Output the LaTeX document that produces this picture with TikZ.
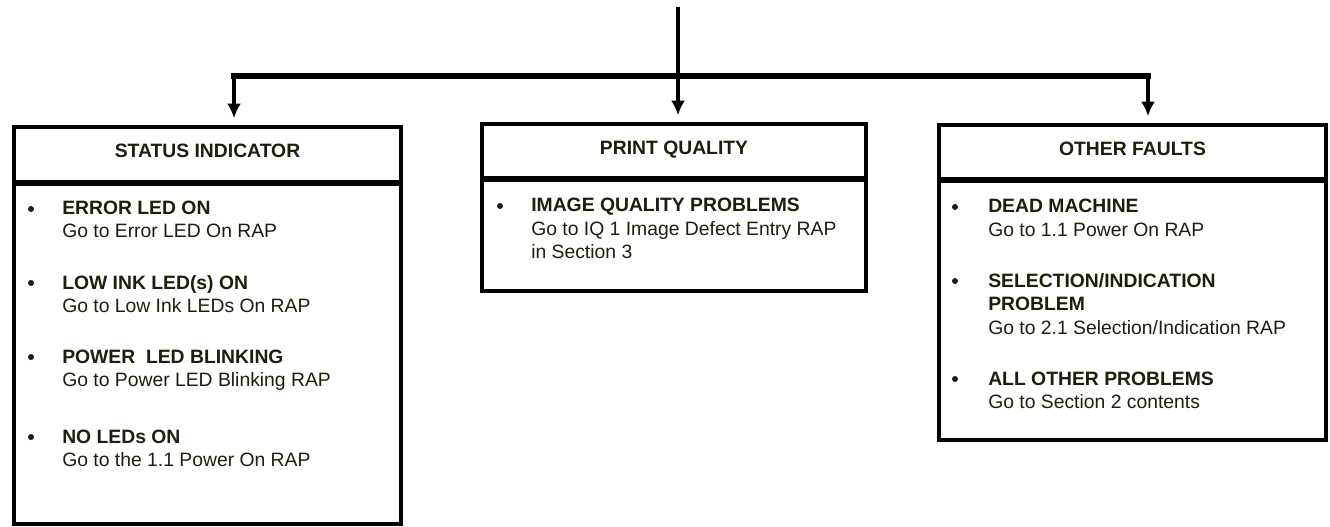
\documentclass[tikz,border=0pt]{standalone}
\usepackage{fontspec}
\setmainfont{Liberation Sans}
\usetikzlibrary{arrows.meta}
\usetikzlibrary{positioning}

\definecolor{inkdark}{RGB}{30,30,12}
\newcommand{\pxu}{0.75pt}
\newcommand{\diagfont}{\fontsize{14.5}{17.4}\selectfont}

\begin{document}
\begin{tikzpicture}[x=0.75pt, y=-0.75pt, >={Latex[length=11pt,width=10.5pt]},
  header/.style={draw, line width=3pt, outer sep=0pt, inner sep=0pt, anchor=north west,
    font=\diagfont\bfseries, text=inkdark, text height=10.5pt, text depth=6.2pt},
  body/.style={draw, line width=3pt, outer sep=0pt, inner sep=0pt, anchor=north west},
  divider/.style={line width=5pt},
  feed/.style={line width=3.2pt},
  bus/.style={line width=4.2pt, line cap=rect},
  branch/.style={line width=3.2pt, ->, shorten >=6.5pt},
  heading/.style={anchor=base west, inner sep=0pt, font=\diagfont\bfseries, text=inkdark},
  action/.style={anchor=base west, inner sep=0pt, font=\diagfont, text=inkdark},
  dot/.style={circle, fill=inkdark, inner sep=0pt, minimum size=4.5pt}]
\useasboundingbox (0,0) rectangle (1330,527);

% the three boxes
\node[header, minimum width=387*\pxu, minimum height=56*\pxu] (status) at (14,127) {STATUS INDICATOR};
\node[body, minimum width=387*\pxu, minimum height=341*\pxu] (statusbody) at (status.south west) {};
\node[header, minimum width=384*\pxu, minimum height=55*\pxu] (print) at (482,124) {PRINT QUALITY};
\node[body, minimum width=384*\pxu, minimum height=112*\pxu] (printbody) at (print.south west) {};
\node[header, minimum width=387*\pxu, minimum height=55*\pxu] (other) at (939,125) {OTHER FAULTS};
\node[body, minimum width=387*\pxu, minimum height=260*\pxu] (otherbody) at (other.south west) {};

\foreach \bx in {status, print, other}
  \draw[divider] (\bx.south west) -- (\bx.south east);

% connectors
\coordinate (src) at (678,7);
\coordinate (split) at (678,76);
\coordinate (leftend) at (234,76);
\coordinate (rightend) at (1148,76);
\draw[feed] (src) -- (split);
\draw[bus] (leftend) -- (rightend);
\draw[branch] (leftend) -- (leftend |- status.north);
\draw[branch] (split) -- (split |- print.north);
\draw[branch] (rightend) -- (rightend |- other.north);

% status indicator entries
\foreach \y/\nm/\head/\act in {215/err/ERROR LED ON/Go to Error LED On RAP,
    289/lowink/LOW INK LED(s) ON/Go to Low Ink LEDs On RAP,
    363/blink/POWER\ \ LED BLINKING/Go to Power LED Blinking RAP,
    443/noled/NO LEDs ON/Go to the 1.1 Power On RAP} {
  \node[dot] (\nm-dot) at (31,\y-6) {};
  \node[heading] (\nm) at (62,\y) {\head};
  \node[action] (\nm-go) at (62,\y+23) {\act};
}

% print quality entry
\node[dot] (iq-dot) at (500,206) {};
\node[heading] (iq) at (531,212) {IMAGE QUALITY PROBLEMS};
\node[action] (iq-go) at (531,236) {Go to IQ 1 Image Defect Entry RAP};
\node[action] (iq-sec) at (531,258) {in Section 3};

% other faults entries
\node[dot] (dead-dot) at (955,207) {};
\node[heading] (dead) at (988,213) {DEAD MACHINE};
\node[action] (dead-go) at (988,237) {Go to 1.1 Power On RAP};
\node[dot] (sel-dot) at (955,281) {};
\node[heading] (sel) at (988,287) {SELECTION/INDICATION};
\node[heading] (sel-b) at (988,310) {PROBLEM};
\node[action] (sel-go) at (988,334) {Go to 2.1 Selection/Indication RAP};
\node[dot] (all-dot) at (955,379) {};
\node[heading] (all) at (988,385) {ALL OTHER PROBLEMS};
\node[action] (all-go) at (988,408) {Go to Section 2 contents};

\end{tikzpicture}
\end{document}
